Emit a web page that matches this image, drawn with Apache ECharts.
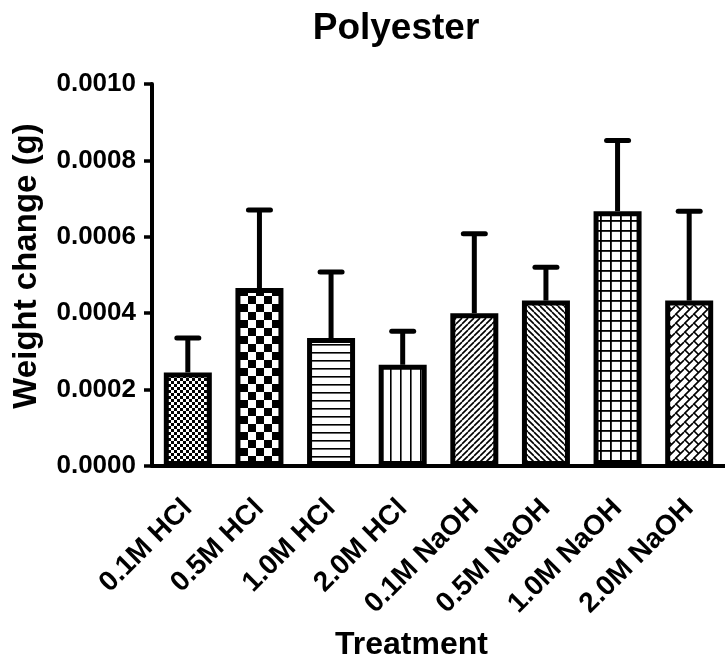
<!DOCTYPE html>
<html>
<head>
<meta charset="utf-8">
<script src="https://cdn.jsdelivr.net/npm/echarts@6/dist/echarts.min.js"></script>
<style>html,body{margin:0;padding:0;background:#fff}#c{width:725px;height:662px}</style>
</head>
<body>
<div id="c"></div>
<script>
const categories = ['0.1M HCl','0.5M HCl','1.0M HCl','2.0M HCl','0.1M NaOH','0.5M NaOH','1.0M NaOH','2.0M NaOH'];
const means = [0.000245, 0.000466, 0.000335, 0.000265, 0.000400, 0.000433, 0.000667, 0.000433];
const sem   = [0.000090, 0.000204, 0.000173, 0.000088, 0.000208, 0.000087, 0.000185, 0.000234];
const yTicks = { min: 0, max: 0.0010, interval: 0.0002 };

function mk(size, draw) {
  const c = document.createElement('canvas');
  c.width = size; c.height = size;
  const g = c.getContext('2d');
  g.fillStyle = '#fff'; g.fillRect(0, 0, size, size);
  g.fillStyle = '#000'; g.strokeStyle = '#000';
  draw(g, size);
  return c;
}
function diag(g, s, forward, lw) {
  g.lineWidth = lw;
  g.beginPath();
  for (const k of [-s, 0, s]) {
    if (forward) { g.moveTo(k, s); g.lineTo(k + s, 0); }
    else { g.moveTo(k, 0); g.lineTo(k + s, s); }
  }
  g.stroke();
}
const patterns = [
  mk(6, (g) => { g.fillRect(0, 0, 3, 3); g.fillRect(3, 3, 3, 3); }),
  mk(16, (g) => { g.fillRect(0, 0, 8, 8); g.fillRect(8, 8, 8, 8); }),
  mk(8, (g) => { g.fillRect(0, 0, 8, 1.6); }),
  mk(10, (g) => { g.fillRect(0, 0, 1.6, 10); }),
  mk(6, (g, s) => diag(g, s, true, 1.6)),
  mk(6, (g, s) => diag(g, s, false, 1.6)),
  mk(10, (g) => { g.fillRect(0, 0, 10, 1.8); g.fillRect(0, 0, 1.8, 10); }),
  mk(9, (g, s) => {
    diag(g, s, true, 1.6);
    g.lineWidth = 1.6;
    g.beginPath();
    const t = 1;
    for (let i = -1; i <= 1; i++) for (let j = -1; j <= 1; j++) {
      const ox = i * s, oy = j * s;
      g.moveTo(ox + t, oy - t);
      g.lineTo(ox + t + s / 2, oy - t + s / 2);
    }
    g.stroke();
  })
];

const chart = echarts.init(document.getElementById('c'), null, { renderer: 'canvas' });
const font = "'Liberation Sans', Arial, sans-serif";
chart.setOption({
  animation: false,
  backgroundColor: '#fff',
  title: {
    text: 'Polyester', left: 391, top: 5, textAlign: 'center',
    textStyle: { fontFamily: font, fontWeight: 'bold', fontSize: 37, color: '#000' }
  },
  grid: { left: 152, right: 0, top: 84, bottom: 196, containLabel: false, outerBoundsMode: 'none' },
  xAxis: {
    type: 'category', data: categories,
    name: 'Treatment', nameLocation: 'middle', nameGap: 163,
    nameTextStyle: { fontFamily: font, fontWeight: 'bold', fontSize: 32, color: '#000', padding: [0, 54, 0, 0] },
    axisLine: { lineStyle: { color: '#000', width: 4 } },
    axisTick: { alignWithLabel: true, length: 9, lineStyle: { color: '#000', width: 3 } },
    axisLabel: { rotate: 45, margin: 38, interval: 0, padding: [22, 0, 0, 0], fontFamily: font, fontWeight: 'bold', fontSize: 28, color: '#000' }
  },
  yAxis: {
    type: 'value', min: yTicks.min, max: yTicks.max, interval: yTicks.interval,
    name: 'Weight change (g)', nameLocation: 'middle', nameGap: 109,
    nameTextStyle: { fontFamily: font, fontWeight: 'bold', fontSize: 33, color: '#000', padding: [0, 0, 0, 18] },
    axisLine: { show: true, lineStyle: { color: '#000', width: 4 } },
    axisTick: { show: true, length: 8, lineStyle: { color: '#000', width: 3.5 } },
    splitLine: { show: false },
    axisLabel: { margin: 16, fontFamily: font, fontWeight: 'bold', fontSize: 26, color: '#000',
      formatter: (v) => v.toFixed(4) }
  },
  series: [
    {
      type: 'bar', barWidth: 48,
      data: means.map((v, i) => ({ value: v, itemStyle: { color: { image: patterns[i], repeat: 'repeat' } } })),
      itemStyle: { borderColor: '#000', borderWidth: 5 },
      z: 2
    },
    {
      type: 'custom', z: 3,
      data: means.map((v, i) => [i, v, sem[i]]),
      encode: { x: 0, y: 1 },
      renderItem: (params, api) => {
        const x = api.value(0), v = api.value(1), e = api.value(2);
        const p0 = api.coord([x, v]);
        const p1 = api.coord([x, v + e]);
        return {
          type: 'group',
          children: [
            { type: 'line', shape: { x1: p0[0], y1: p0[1], x2: p1[0], y2: p1[1] }, style: { stroke: '#000', lineWidth: 5 } },
            { type: 'line', shape: { x1: p1[0] - 11, y1: p1[1], x2: p1[0] + 11, y2: p1[1] }, style: { stroke: '#000', lineWidth: 5, lineCap: 'round' } }
          ]
        };
      }
    }
  ]
});
</script>
</body>
</html>
